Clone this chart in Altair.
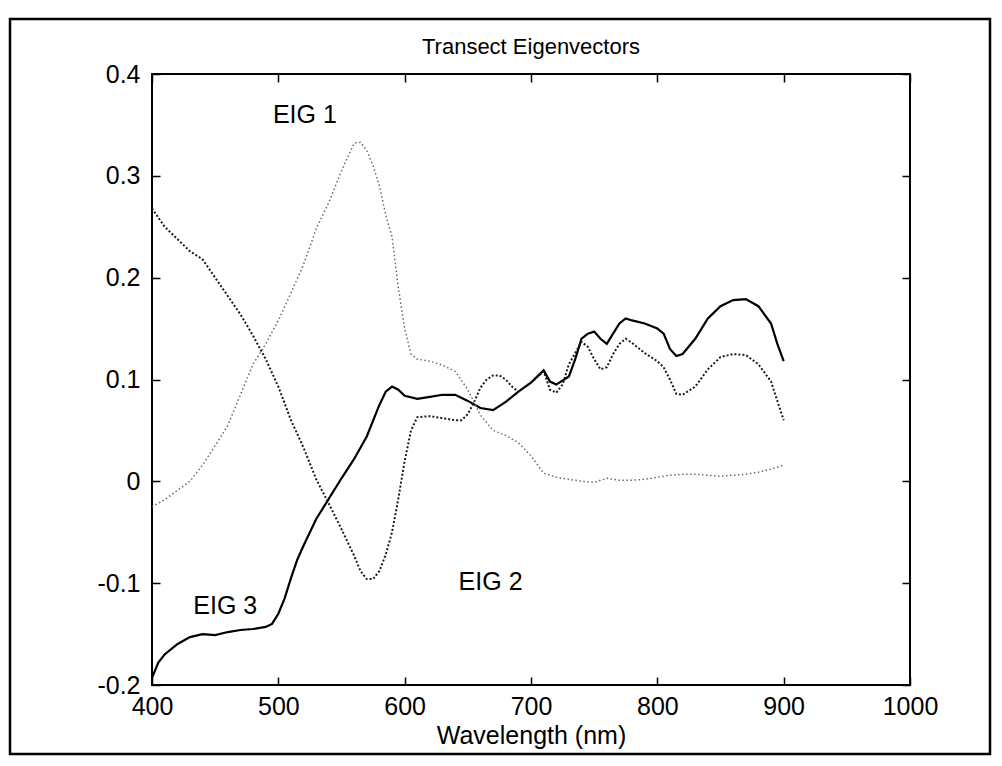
import altair as alt
import pandas as pd

# ---- data ----
eig1_wl = [400, 410, 420, 430, 440, 450, 460, 470, 480, 490, 500, 510, 520, 530, 540,
           550, 560, 565, 570, 575, 580, 585, 590, 595, 600, 605, 610, 620, 630, 640,
           650, 660, 670, 680, 690, 700, 710, 720, 730, 740, 750, 760, 770, 780, 790,
           800, 810, 820, 830, 840, 850, 860, 870, 880, 890, 900]
eig1_val = [-0.025, -0.018, -0.009, 0.0, 0.016, 0.035, 0.055, 0.085, 0.115, 0.135, 0.158,
            0.185, 0.213, 0.248, 0.274, 0.305, 0.332, 0.333, 0.325, 0.31, 0.29, 0.262,
            0.24, 0.19, 0.15, 0.125, 0.12, 0.118, 0.114, 0.108, 0.09, 0.065, 0.05, 0.045,
            0.038, 0.025, 0.008, 0.004, 0.002, 0.0, -0.001, 0.003, 0.001, 0.001, 0.002,
            0.004, 0.006, 0.007, 0.007, 0.006, 0.005, 0.006, 0.007, 0.009, 0.012, 0.016]

eig2_wl = [400, 410, 420, 430, 440, 450, 460, 470, 480, 490, 500, 510, 520, 530, 540,
           550, 560, 565, 570, 575, 580, 585, 590, 595, 600, 605, 610, 620, 630, 640,
           645, 650, 655, 660, 665, 670, 675, 680, 685, 690, 700, 710, 715, 720, 725,
           730, 740, 745, 750, 755, 760, 765, 770, 775, 780, 790, 800, 805, 810, 815,
           820, 830, 840, 850, 860, 870, 880, 890, 900]
eig2_val = [0.268, 0.25, 0.238, 0.226, 0.218, 0.2, 0.182, 0.164, 0.143, 0.12, 0.093, 0.06,
            0.033, 0.002, -0.022, -0.047, -0.073, -0.088, -0.096, -0.096, -0.088, -0.072,
            -0.05, -0.017, 0.02, 0.05, 0.063, 0.064, 0.062, 0.06, 0.06, 0.066, 0.078, 0.092,
            0.1, 0.104, 0.104, 0.1, 0.093, 0.088, 0.097, 0.108, 0.09, 0.087, 0.095, 0.115,
            0.137, 0.132, 0.12, 0.11, 0.112, 0.125, 0.135, 0.14, 0.136, 0.126, 0.118, 0.112,
            0.1, 0.086, 0.085, 0.093, 0.11, 0.122, 0.125, 0.124, 0.115, 0.098, 0.06]

eig3_wl = [400, 405, 410, 420, 430, 440, 450, 460, 470, 480, 490, 495, 500, 505, 510,
           515, 520, 530, 540, 550, 560, 570, 580, 585, 590, 595, 600, 610, 620, 630,
           640, 650, 660, 670, 680, 690, 700, 710, 715, 720, 730, 735, 740, 745, 750,
           755, 760, 765, 770, 775, 780, 790, 800, 805, 810, 815, 820, 830, 840, 850,
           860, 870, 880, 890, 895, 900]
eig3_val = [-0.193, -0.178, -0.17, -0.16, -0.153, -0.15, -0.151, -0.148, -0.146, -0.145,
            -0.143, -0.14, -0.13, -0.115, -0.095, -0.077, -0.063, -0.037, -0.017, 0.003,
            0.022, 0.044, 0.075, 0.088, 0.093, 0.09, 0.084, 0.081, 0.083, 0.085, 0.085,
            0.079, 0.072, 0.07, 0.078, 0.088, 0.097, 0.109, 0.098, 0.095, 0.103, 0.12, 0.14,
            0.145, 0.147, 0.14, 0.135, 0.145, 0.155, 0.16, 0.158, 0.155, 0.15, 0.145, 0.13,
            0.123, 0.125, 0.14, 0.16, 0.172, 0.178, 0.179, 0.172, 0.155, 0.135, 0.118]

x_ticks = [400, 500, 600, 700, 800, 900, 1000]
y_ticks = [-0.2, -0.1, 0.0, 0.1, 0.2, 0.3, 0.4]

label_text = ["EIG 1", "EIG 2", "EIG 3"]
label_wl = [521, 668, 458]
label_val = [0.36, -0.099, -0.122]

FONT = "Liberation Sans"
FS = 25

d1 = pd.DataFrame({"wl": eig1_wl, "val": eig1_val})
d2 = pd.DataFrame({"wl": eig2_wl, "val": eig2_val})
d3 = pd.DataFrame({"wl": eig3_wl, "val": eig3_val})
dl = pd.DataFrame({"wl": label_wl, "val": label_val, "txt": label_text})

xscale = alt.Scale(domain=[400, 1000], nice=False, zero=False)
yscale = alt.Scale(domain=[-0.2, 0.4], nice=False, zero=False)

ylabel_expr = ("abs(datum.value) < 1e-9 ? '0' : (datum.value < 0 ? '-' + "
               "format(-datum.value, '.1f') : format(datum.value, '.1f'))")

ax_bottom = alt.Axis(values=x_ticks, orient="bottom", title="Wavelength (nm)", grid=False,
                     domain=False, tickSize=8, offset=-8, tickColor="black", tickWidth=1.5,
                     labelFont=FONT, labelFontSize=FS, labelColor="black", labelPadding=9,
                     labelFlush=False, labelOverlap=False,
                     titleFont=FONT, titleFontSize=FS, titleFontWeight="normal",
                     titleColor="black", titlePadding=4, format="d")
ax_left = alt.Axis(values=y_ticks, orient="left", title=None, grid=False, domain=False,
                   tickSize=8, offset=-8, tickColor="black", tickWidth=1.5,
                   labelFont=FONT, labelFontSize=FS, labelColor="black", labelPadding=12,
                   labelFlush=False, labelOverlap=False, labelExpr=ylabel_expr)
ax_top = alt.Axis(values=x_ticks, orient="top", title=None, grid=False, domain=False,
                  tickSize=8, offset=-8, tickColor="black", tickWidth=1.5, labels=False)
ax_right = alt.Axis(values=y_ticks, orient="right", title=None, grid=False, domain=False,
                    tickSize=8, offset=-8, tickColor="black", tickWidth=1.5, labels=False)

line3 = alt.Chart(d3).mark_line(color="black", strokeWidth=2.2).encode(
    x=alt.X("wl:Q", scale=xscale, axis=ax_bottom),
    y=alt.Y("val:Q", scale=yscale, axis=ax_left),
)
line2 = alt.Chart(d2).mark_line(color="#1a1a1a", strokeWidth=2.0, strokeDash=[2, 2]).encode(
    x=alt.X("wl:Q", scale=xscale, axis=None),
    y=alt.Y("val:Q", scale=yscale, axis=None),
)
line1 = alt.Chart(d1).mark_line(color="#6a6a6a", strokeWidth=1.5, strokeDash=[1.5, 2.5]).encode(
    x=alt.X("wl:Q", scale=xscale, axis=None),
    y=alt.Y("val:Q", scale=yscale, axis=None),
)
labels = alt.Chart(dl).mark_text(font=FONT, fontSize=FS, color="black", align="center",
                                 baseline="middle").encode(
    x=alt.X("wl:Q", scale=xscale, axis=ax_top),
    y=alt.Y("val:Q", scale=yscale, axis=ax_right),
    text="txt:N",
)
frame = alt.Chart(pd.DataFrame({"k": [0]})).mark_rect(
    fillOpacity=0, stroke="black", strokeWidth=2.5, clip=False
).encode(x=alt.value(-142), x2=alt.value(838), y=alt.value(-55), y2=alt.value(680))

chart = alt.layer(line3, line2, line1, labels, frame).resolve_axis(
    x="independent", y="independent"
).properties(
    width=758, height=611,
    padding={"left": 144, "top": 66, "right": 82, "bottom": 72},
    autosize=alt.AutoSizeParams(type="none"),
    title=alt.TitleParams("Transect Eigenvectors", font=FONT, fontSize=22,
                          fontWeight="normal", color="black", anchor="middle",
                          frame="group", offset=14, dy=55),
).configure_view(stroke="black", strokeWidth=2)

chart.save("out.html", embed_options={"renderer": "svg", "actions": False})
